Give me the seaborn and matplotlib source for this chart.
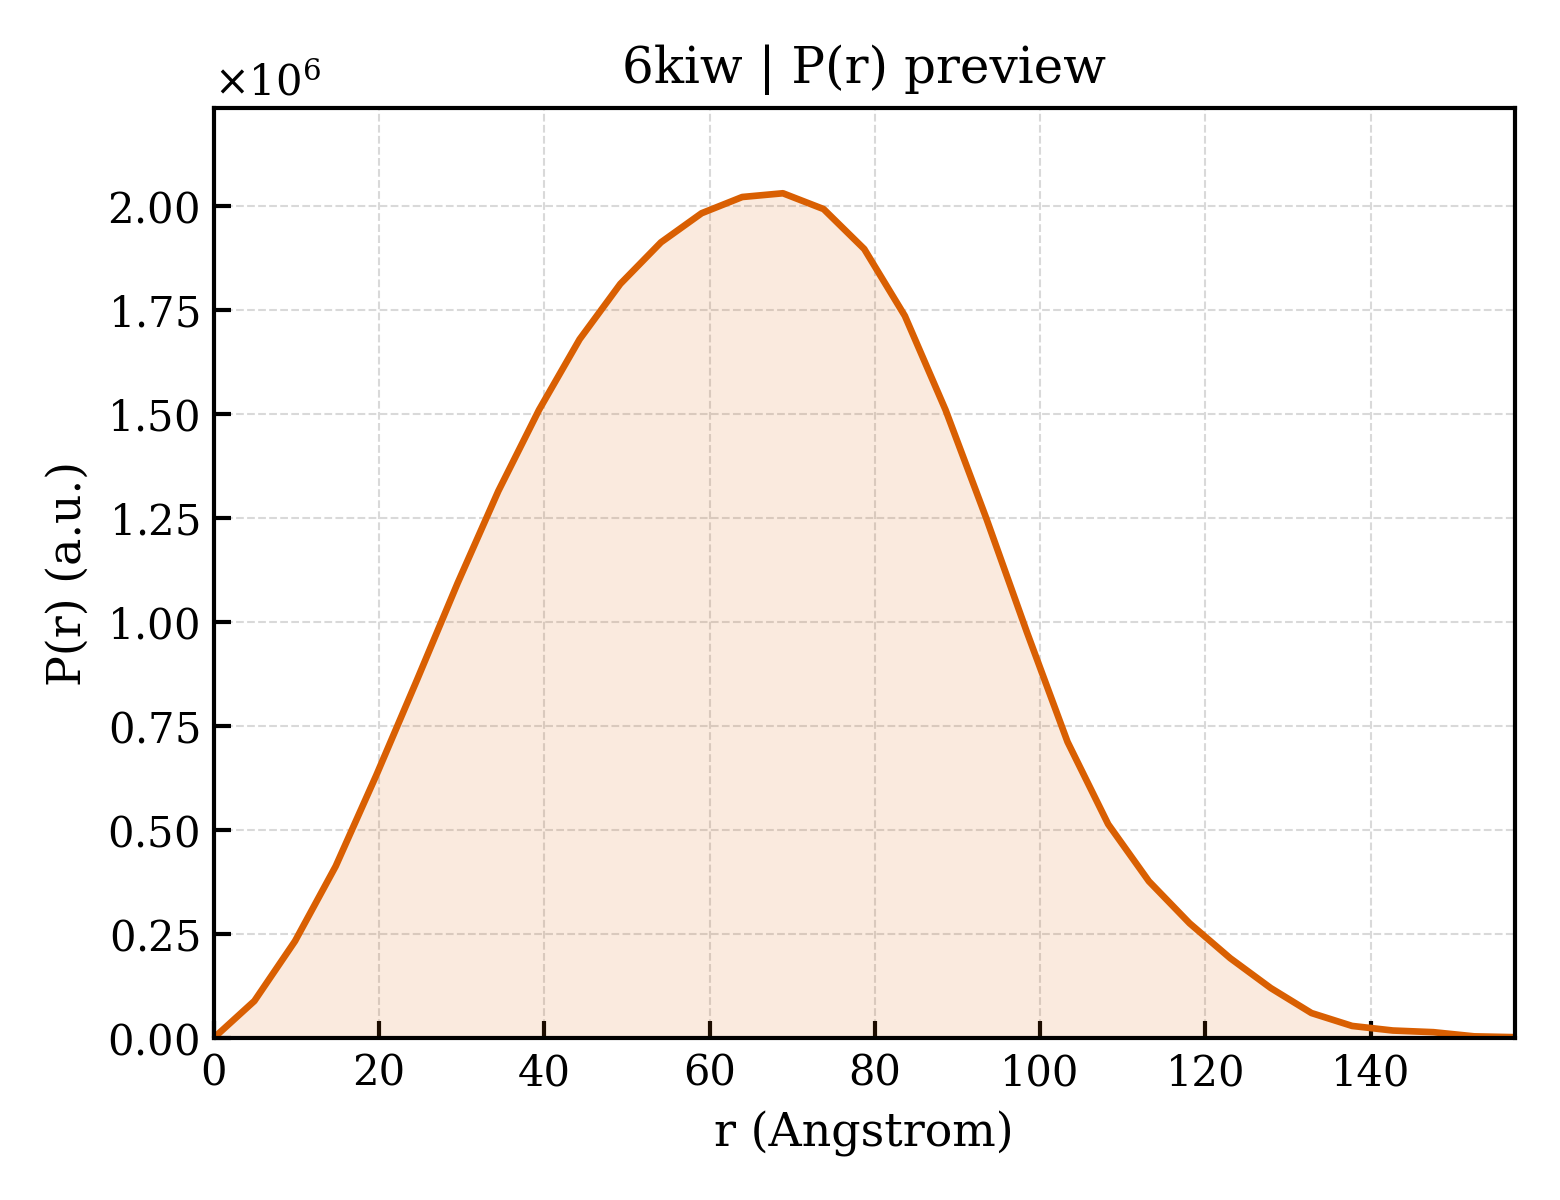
import matplotlib
matplotlib.use("Agg")
import matplotlib.pyplot as plt
import numpy as np
import pandas as pd
import seaborn as sns

# ── Data ──────────────────────────────────────────────────────────────────────
r_angstrom = [0.0, 4.92, 9.84, 14.76, 19.68, 24.6, 29.52, 34.44, 39.36, 44.28,
              49.2, 54.12, 59.04, 63.96, 68.88, 73.8, 78.72, 83.64, 88.56, 93.48,
              98.4, 103.32, 108.24, 113.16, 118.08, 123.0, 127.92, 132.84, 137.76,
              142.68, 147.6, 152.52, 157.44]
pr_millions = [0.0, 0.089, 0.233, 0.413, 0.632, 0.861, 1.094, 1.315, 1.510, 1.680,
               1.813, 1.913, 1.983, 2.022, 2.031, 1.993, 1.897, 1.736, 1.510, 1.250,
               0.976, 0.712, 0.514, 0.377, 0.276, 0.192, 0.120, 0.060, 0.029,
               0.018, 0.014, 0.004, 0.002]

df = pd.DataFrame({"r": r_angstrom, "pr": np.array(pr_millions) * 1e6})

LINE_COLOR = "#d95f02"

# ── Style ─────────────────────────────────────────────────────────────────────
sns.set_style("ticks")
plt.rcParams["font.family"] = ["DejaVu Serif"]
plt.rcParams["mathtext.fontset"] = "dejavuserif"
plt.rcParams.update({
    "text.color": "black",
    "axes.labelcolor": "black",
    "axes.edgecolor": "black",
    "xtick.color": "black",
    "ytick.color": "black",
})

fig, ax = plt.subplots(figsize=(5.2, 4.0), dpi=300)
fig.subplots_adjust(left=0.137, right=0.971, bottom=0.135, top=0.91)

sns.lineplot(data=df, x="r", y="pr", color=LINE_COLOR, linewidth=1.6, ax=ax)
ax.fill_between(df["r"], df["pr"], color=LINE_COLOR, alpha=0.13, linewidth=0)

ax.set_xlim(0, df["r"].max())
ax.set_ylim(0, 2.236e6)
ax.set_yticks(np.arange(0, 2.01e6, 0.25e6))
ax.ticklabel_format(axis="y", style="sci", scilimits=(6, 6), useMathText=True)
ax.yaxis.get_offset_text().set_fontsize(10)

ax.grid(True, linestyle="--", linewidth=0.5, color="#d9d9d9")
ax.tick_params(direction="in", length=4, width=1, labelsize=10)
for s in ax.spines.values():
    s.set_linewidth(1.0)
    s.set_visible(True)

ax.set_xlabel("r (Angstrom)", fontsize=11)
ax.set_ylabel("P(r) (a.u.)", fontsize=11)
ax.set_title("6kiw | P(r) preview", fontsize=12)

plt.savefig("out.png", dpi=300)
plt.close()
